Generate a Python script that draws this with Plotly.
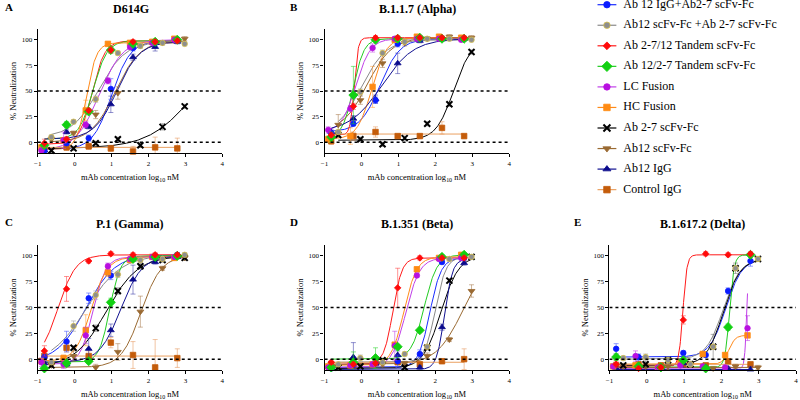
import numpy as np
import plotly.graph_objects as go

# ---------------- data ----------------
X1 = [-0.82, -0.22, 0.38, 0.98, 1.58, 2.18, 2.78]
X2 = [-0.63, -0.03, 0.57, 1.17, 1.78, 2.38, 2.98]
X3 = [-0.90, -0.30, 0.30, 0.90, 1.50, 2.10, 2.70]

series_names = ["Ab 12 IgG+Ab2-7 scFv-Fc", "Ab12 scFv-Fc +Ab 2-7 scFv-Fc",
                "Ab 2-7/12 Tandem scFv-Fc", "Ab 12/2-7 Tandem scFv-Fc",
                "LC Fusion", "HC Fusion", "Ab 2-7 scFv-Fc", "Ab12 scFv-Fc",
                "Ab12 IgG", "Control IgG"]
series_grid = [X1, X2, X1, X1, X3, X3, X2, X2, X1, X1]

panel_letters = ["A", "B", "C", "D", "E"]
panel_titles = ["D614G", "B.1.1.7 (Alpha)", "P.1 (Gamma)", "B.1.351 (Beta)", "B.1.617.2 (Delta)"]

# % neutralization, series order as in series_names
d614g_y = [[-8, -1, 4, 52, 92, 97, 100], [5, 20, 42, 87, 94, 97, 96],
           [-1, 3, 31, 90, 98, 98, 99], [-3, 17, 30, 90, 96, 98, 100],
           [-8, 2, 17, 60, 93, 97, 100], [-5, 2, 31, 96, 97, 98, 101],
           [-8, -6, -1, 3, -3, 15, 35], [3, 9, 27, 48, 94, 97, 101],
           [-8, 10, 15, 37, 83, 93, 98], [-4, -5, -4, -6, -9, -5, -6]]
alpha_y = [[9, 18, 41, 96, 101, 101, 101], [10, 49, 87, 98, 101, 101, 100],
           [7, 35, 102, 102, 102, 102, 102], [5, 46, 100, 101, 102, 101, 101],
           [12, 33, 92, 101, 101, 101, 100], [3, 6, 54, 100, 103, 103, 102],
           [7, 3, -2, 4, 18, 37, 88], [17, 41, 77, 97, 101, 103, 102],
           [10, 23, 42, 77, 99, 101, 101], [1, 6, 10, 6, 6, 14, 6]]
gamma_y = [[2, 17, 59, 81, 98, 100, 101], [-3, 32, 62, 82, 96, 97, 101],
           [8, 68, 95, 102, 101, 101, 101], [-9, -4, -2, 55, 97, 99, 100],
           [-3, -5, 23, 90, 97, 99, 99], [-2, 1, 28, 84, 96, 99, 98],
           [-6, 11, 30, 66, 90, 96, 98], [-6, 3, -8, 7, 46, 88, 98],
           [-4, -5, 10, 28, 77, 94, 99], [3, 11, 3, 16, 4, -8, 1]]
beta_y = [[-9, -6, -4, -2, 5, 94, 98], [-5, 1, -3, 5, 12, 97, 99],
          [-3, -5, -4, 69, 98, 98, 98], [-8, -3, 1, 12, 28, 99, 101],
          [-8, -6, -5, 13, 81, 97, 98], [-7, -6, -5, 14, 87, 98, 101],
          [-8, -7, -1, -8, 11, 76, 99], [-7, -6, -5, -4, 3, 19, 66],
          [-7, 2, -4, 4, -8, 31, 93], [-5, -6, -4, -3, -5, -2, 0]]
delta_y = [[10, 2, -8, 6, 4, 66, 95], [1, 2, -1, -5, 12, 88, 97],
           [-5, -9, -8, 38, 102, 101, 102], [2, -7, -8, -1, -9, 31, 101],
           [-7, 3, -8, -6, -7, -8, 30], [-7, -6, -8, -3, 5, 4, 23],
           [-6, -5, -1, -5, 12, 88, 97], [-7, -7, -7, -5, -9, -7, -8],
           [-9, -8, -9, -4, -8, -9, -10], [-6, -5, -6, -5, -6, -2, -5]]

# SEM error bars
d614g_err = [[2, 2, 3, 10, 3, 2, 2], [2, 2, 3, 2, 2, 2, 2], [4, 2, 2, 3, 2, 2, 2],
             [3, 3, 3, 3, 2, 2, 2], [3, 8, 3, 3, 2, 2, 2], [3, 2, 10, 2, 2, 2, 2],
             [2, 2, 2, 2, 2, 3, 2], [2, 2, 4, 6, 2, 2, 2], [2, 2, 2, 8, 3, 4, 2],
             [3, 3, 3, 3, 5, 10, 10]]
alpha_err = [[2, 2, 3, 3, 2, 2, 2], [2, 3, 3, 2, 2, 2, 2], [2, 3, 2, 2, 2, 2, 2],
             [5, 28, 2, 2, 2, 2, 2], [3, 3, 4, 2, 2, 2, 2], [3, 8, 20, 2, 2, 2, 2],
             [2, 2, 2, 2, 2, 2, 2], [10, 4, 4, 3, 2, 2, 2], [2, 3, 4, 10, 2, 2, 2],
             [3, 4, 5, 2, 2, 6, 2]]
gamma_err = [[3, 10, 5, 4, 2, 2, 2], [2, 5, 4, 3, 2, 2, 2], [5, 12, 2, 2, 2, 2, 2],
             [2, 2, 2, 4, 2, 2, 2], [4, 4, 8, 3, 2, 2, 2], [3, 3, 15, 4, 2, 2, 2],
             [2, 2, 3, 3, 3, 2, 2], [2, 5, 3, 8, 15, 2, 2], [2, 2, 10, 6, 14, 2, 2],
             [2, 4, 5, 5, 13, 27, 9]]
beta_err = [[2, 2, 2, 6, 4, 2, 2], [2, 3, 2, 2, 2, 2, 2], [2, 2, 2, 19, 2, 2, 2],
            [2, 10, 10, 2, 2, 2, 2], [2, 2, 2, 14, 2, 2, 2], [2, 2, 2, 2, 2, 2, 2],
            [2, 2, 2, 2, 2, 2, 2], [2, 2, 2, 2, 3, 2, 6], [2, 14, 2, 4, 2, 3, 2],
            [2, 2, 2, 2, 2, 2, 10]]
delta_err = [[5, 3, 2, 2, 2, 3, 5], [2, 3, 3, 2, 2, 2, 2], [3, 2, 2, 4, 2, 2, 2],
             [3, 2, 2, 2, 2, 3, 2], [2, 5, 2, 2, 2, 2, 12], [2, 2, 2, 2, 2, 2, 2],
             [2, 3, 3, 3, 12, 5, 2], [2, 2, 3, 2, 2, 2, 2], [2, 2, 2, 4, 2, 2, 3],
             [2, 2, 2, 2, 2, 2, 2]]

# fitted 4-parameter logistic curves: bottom, top, logEC50, hill
d614g_bottom = [-7, 5, -2, 3, -8, -7, -6, 0, 3, -5]
d614g_top = [99, 98, 99, 99, 100, 97, 100, 99, 98, -5]
d614g_ec50 = [1.0, 0.65, 0.47, 0.5, 0.66, 0.32, 3.26, 1.1, 1.15, 1.0]
d614g_hill = [1.7, 1.2, 2.5, 2.3, 1.35, 3.2, 0.7, 1.3, 1.4, 1.0]

alpha_bottom = [10, 8, 7, 5, 10, 3, 2, 10, 10, 8]
alpha_top = [101, 100, 102, 101, 101, 102, 100, 102, 101, 8]
alpha_ec50 = [0.5, 0.0, -0.2, -0.22, -0.15, 0.28, 2.5, 0.15, 0.55, 1.0]
alpha_hill = [1.6, 1.3, 8, 3, 2.2, 2.2, 1.8, 1.3, 1.0, 1.0]

gamma_bottom = [-3, -5, -2, -3, -5, -2, -8, -8, -3, 3]
gamma_top = [101, 101, 101, 100, 99, 99, 100, 100, 100, 3]
gamma_ec50 = [0.3, 0.3, -0.45, 0.95, 0.5, 0.45, 0.85, 1.8, 1.25, 1.0]
gamma_hill = [1.1, 0.9, 1.8, 3.0, 2.5, 2.0, 1.0, 1.6, 1.5, 1.0]

beta_bottom = [-8, -3, -5, 0, -8, -6, -9, -5, -10, -3]
beta_top = [98, 99, 98, 101, 98, 99, 100, 100, 97, -3]
beta_ec50 = [1.85, 2.0, 0.85, 1.7, 1.2, 1.15, 2.15, 2.75, 2.25, 1.0]
beta_hill = [2.8, 3.0, 3.5, 2.5, 2.3, 2.5, 1.8, 1.2, 4.0, 1.0]

delta_bottom = [2, 0, -7, -8, -9, -5, -6, -8, -10, -5]
delta_top = [97, 97, 101, 101, 100, 23, 97, -8, -10, -5]
delta_ec50 = [2.12, 2.05, 0.97, 2.22, 2.68, 2.2, 2.05, 1.0, 1.0, 1.0]
delta_hill = [2.0, 1.9, 8, 7, 15, 5, 1.9, 1.0, 1.0, 1.0]

panel_y = [d614g_y, alpha_y, gamma_y, beta_y, delta_y]
panel_err = [d614g_err, alpha_err, gamma_err, beta_err, delta_err]
panel_fit = [(d614g_bottom, d614g_top, d614g_ec50, d614g_hill),
             (alpha_bottom, alpha_top, alpha_ec50, alpha_hill),
             (gamma_bottom, gamma_top, gamma_ec50, gamma_hill),
             (beta_bottom, beta_top, beta_ec50, beta_hill),
             (delta_bottom, delta_top, delta_ec50, delta_hill)]

x_ticks = [-1, 0, 1, 2, 3, 4]
y_ticks = [0, 25, 50, 75, 100]
ref_levels = [0, 50]

# ---------------- styles ----------------
marker_color = ["#0a1cff", "#8e8e8e", "#ff0a0a", "#12d012", "#b80fe0", "#ff8a12",
                "#000000", "#9a6a32", "#0a0a8c", "#c45c0a"]
marker_line = ["#0a1cff", "#d8c24a", "#ff0a0a", "#12d012", "#b80fe0", "#ff8a12",
               "#000000", "#9a6a32", "#0a0a8c", "#c45c0a"]
line_color = ["#1a2cff", "#8a8a8a", "#ff1a1a", "#22cc22", "#c040e8", "#ff8a1a",
              "#000000", "#9a6a32", "#101090", "#eaa060"]
err_color = ["rgba(60,80,255,0.55)", "rgba(160,160,160,0.55)", "rgba(255,60,60,0.55)",
             "rgba(40,210,40,0.55)", "rgba(190,60,230,0.55)", "rgba(255,150,40,0.5)",
             "rgba(80,80,80,0.45)", "rgba(160,110,60,0.5)", "rgba(40,40,160,0.5)",
             "rgba(230,150,90,0.55)"]
symbols = ["circle", "circle", "diamond", "diamond", "circle", "square",
           "x-thin", "triangle-down", "triangle-up", "square"]
sizes = [5.5, 5.5, 5, 7, 5.5, 5.5, 6, 6, 6, 5.5]
line_w = [0.8, 0.8, 0.8, 0.8, 0.8, 0.8, 2, 0.8, 0.8, 0.8]

FONT = "Liberation Serif, Times New Roman, serif"

xdoms = [(34/800, 220/800), (323/800, 509/800), (34/800, 220/800),
         (323/800, 509/800), (610/800, 798/800)]
ydoms = [(1-153/400, 1-29/400), (1-153/400, 1-29/400), (1-370/400, 1-245/400),
         (1-370/400, 1-245/400), (1-370/400, 1-245/400)]
title_pos = [(128, 9), (417, 9), (127, 224), (416, 224), (704, 224)]
letter_pos = [(5, 7), (292, 7), (5, 222), (292, 222), (578, 222)]

fig = go.Figure()

for p in range(5):
    xa = "x" if p == 0 else f"x{p+1}"
    ya = "y" if p == 0 else f"y{p+1}"
    bot, top, ec, hl = panel_fit[p]
    # curves first
    for s in range(10):
        xs = series_grid[s]
        xc = np.linspace(min(xs), max(xs), 300)
        yc = bot[s] + (top[s] - bot[s]) / (1 + 10 ** ((ec[s] - xc) * hl[s]))
        fig.add_trace(go.Scatter(x=xc, y=yc, mode="lines", xaxis=xa, yaxis=ya,
                                 line=dict(color=line_color[s], width=1),
                                 showlegend=False, hoverinfo="skip"))
    # points with error bars
    for s in [9, 7, 8, 6, 1, 0, 5, 4, 3, 2]:
        fig.add_trace(go.Scatter(
            x=series_grid[s], y=panel_y[p][s], mode="markers", xaxis=xa, yaxis=ya,
            marker=dict(symbol=symbols[s], size=sizes[s], color=marker_color[s],
                        line=dict(color=marker_line[s], width=line_w[s])),
            error_y=dict(type="data", array=panel_err[p][s], color=err_color[s],
                         thickness=1, width=2.5),
            cliponaxis=False, showlegend=False))
    for lv in ref_levels:
        fig.add_shape(type="line", xref=xa, yref=ya, x0=-1, x1=4, y0=lv, y1=lv,
                      line=dict(color="black", width=1.5, dash="dot"))
    axis_common = dict(showline=True, linecolor="black", linewidth=1.2, ticks="outside",
                       ticklen=3, tickcolor="black", tickwidth=1, showgrid=False,
                       zeroline=False, tickfont=dict(family=FONT, size=7, color="black"))
    fig.layout[("xaxis" if p == 0 else f"xaxis{p+1}")] = dict(
        domain=list(xdoms[p]), anchor=ya, range=[-1, 4], tickvals=x_ticks,
        title=dict(text="mAb concentration log<sub>10</sub> nM",
                   font=dict(family=FONT, size=8.5, color="black"), standoff=7),
        **axis_common)
    fig.layout[("yaxis" if p == 0 else f"yaxis{p+1}")] = dict(
        domain=list(ydoms[p]), anchor=xa, range=[-10.5, 110.5], tickvals=y_ticks,
        title=dict(text="% Neutralization",
                   font=dict(family=FONT, size=8.5, color="black"), standoff=3),
        **axis_common)
    fig.add_annotation(text="<b>" + panel_titles[p] + "</b>", xref="paper", yref="paper",
                       x=title_pos[p][0]/800, y=1-title_pos[p][1]/400, showarrow=False,
                       xanchor="center", yanchor="middle",
                       font=dict(family=FONT, size=12, color="black"))
    fig.add_annotation(text="<b>" + panel_letters[p] + "</b>", xref="paper", yref="paper",
                       x=letter_pos[p][0]/800, y=1-letter_pos[p][1]/400, showarrow=False,
                       xanchor="center", yanchor="middle",
                       font=dict(family=FONT, size=11, color="black"))

# ---------------- legend (drawn on a pixel-unit overlay axis) ----------------
LEG_X_LINE = (598, 617)
LEG_X_MARK = 607.5
LEG_X_TEXT = 624
LEG_Y0, LEG_DY = 4.7, 20.55
for s in range(10):
    ry = LEG_Y0 + LEG_DY * s
    fig.add_trace(go.Scatter(x=list(LEG_X_LINE), y=[ry, ry], mode="lines", xaxis="x6", yaxis="y6",
                             line=dict(color=line_color[s], width=1.2),
                             showlegend=False, hoverinfo="skip"))
    fig.add_trace(go.Scatter(x=[LEG_X_MARK], y=[ry], mode="markers", xaxis="x6", yaxis="y6",
                             marker=dict(symbol=symbols[s], size=sizes[s] + 1, color=marker_color[s],
                                         line=dict(color=marker_line[s], width=line_w[s])),
                             cliponaxis=False, showlegend=False, hoverinfo="skip"))
    fig.add_trace(go.Scatter(x=[LEG_X_TEXT], y=[ry], mode="text", xaxis="x6", yaxis="y6",
                             text=[series_names[s]], textposition="middle right",
                             textfont=dict(family=FONT, size=12, color="black"),
                             cliponaxis=False, showlegend=False, hoverinfo="skip"))

fig.update_layout(
    width=800, height=400, margin=dict(l=0, r=0, t=0, b=0),
    paper_bgcolor="white", plot_bgcolor="rgba(0,0,0,0)",
    showlegend=False,
    xaxis6=dict(domain=[0, 1], range=[0, 800], visible=False, fixedrange=True),
    yaxis6=dict(domain=[0, 1], range=[400, 0], visible=False, fixedrange=True, anchor="x6"),
    font=dict(family=FONT, color="black"),
)

fig.write_html("out.html", config={"displayModeBar": False},
               post_script="document.body.style.margin='0px';")
